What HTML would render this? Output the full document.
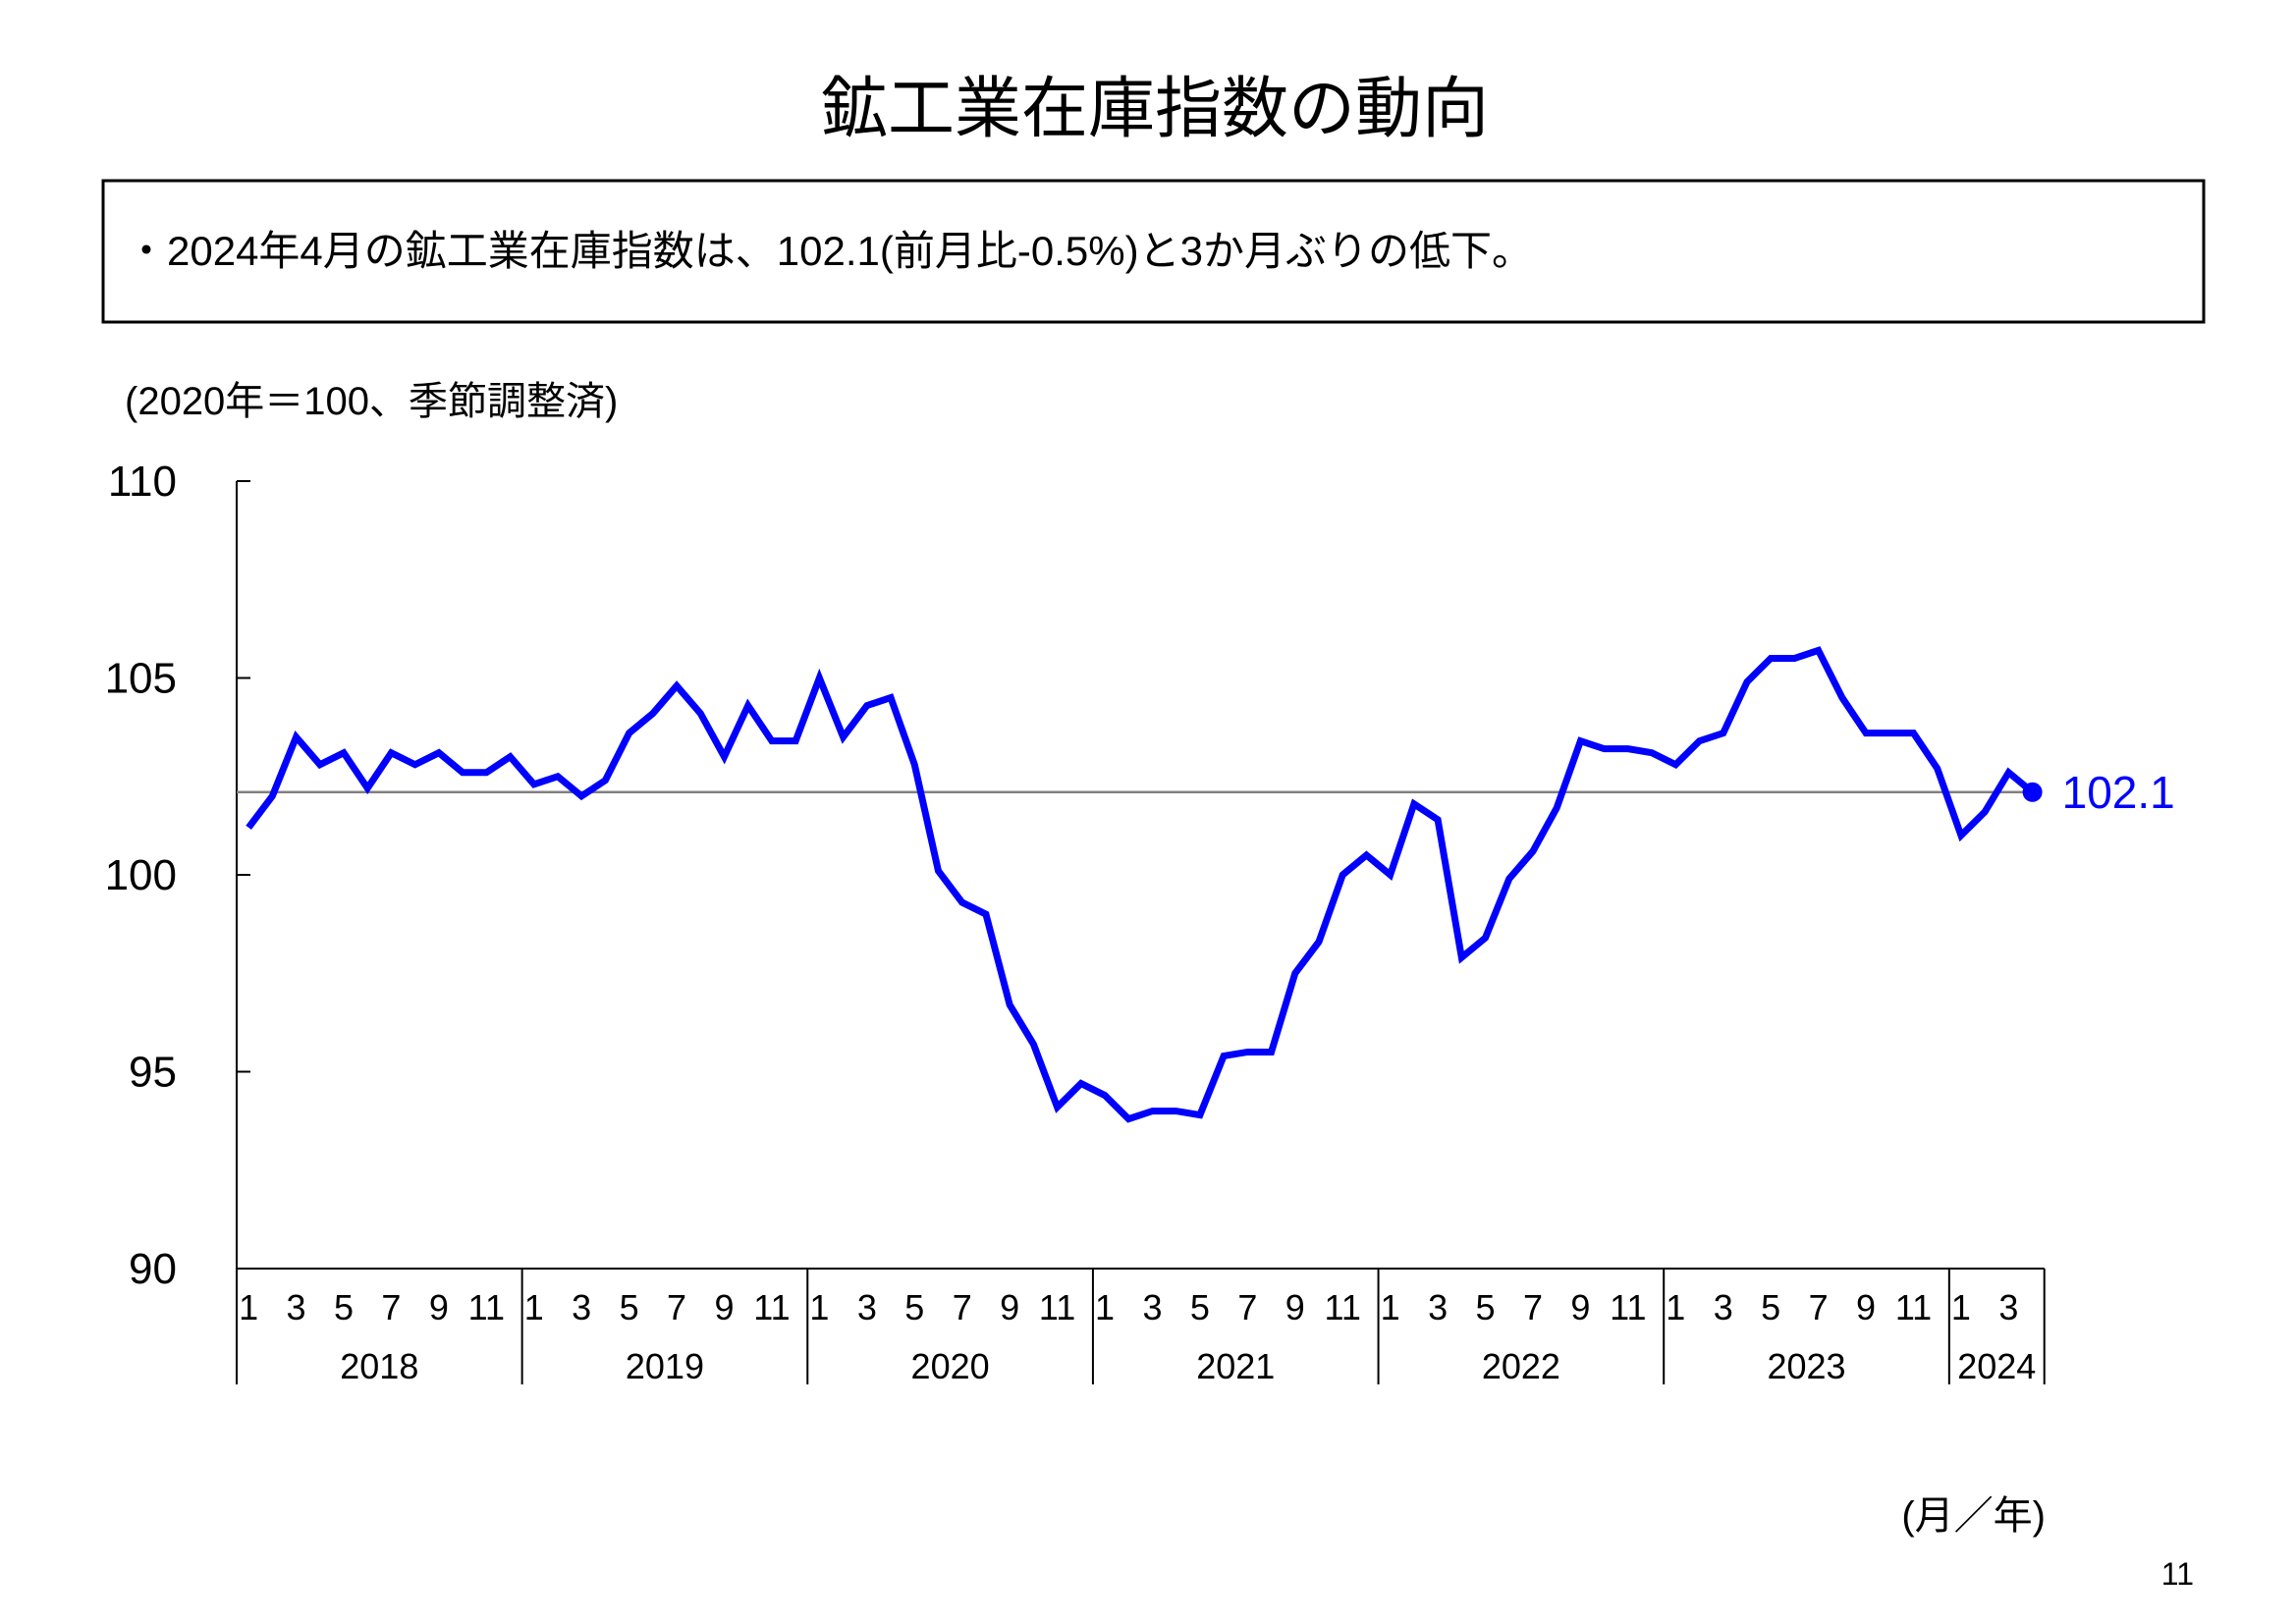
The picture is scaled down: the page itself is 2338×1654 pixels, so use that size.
<!DOCTYPE html>
<html><head><meta charset="utf-8"><style>
html,body{margin:0;padding:0;background:#fff}
svg{display:block}
text{font-family:"Liberation Sans","Noto Sans CJK JP",sans-serif}
</style></head><body>
<svg id="chart" width="2338" height="1654" viewBox="0 0 2338 1654">
<text x="1176" y="134" font-size="68" text-anchor="middle">鉱工業在庫指数の動向</text>
<rect x="105" y="184" width="2139" height="144" fill="none" stroke="#000" stroke-width="3"/>
<text x="128" y="270" font-size="42">・2024年4月の鉱工業在庫指数は、102.1(前月比-0.5%)と3か月ぶりの低下。</text>
<text x="127" y="422" font-size="40">(2020年＝100、季節調整済)</text>
<text x="2083" y="1557" font-size="40" text-anchor="end">(月／年)</text>
<text x="2234" y="1614" font-size="32" text-anchor="end">11</text>
<g id="axes"></g>
<g id="plot"></g>
</svg>
<script>
const years = ["2018","2019","2020","2021","2022","2023","2024"];
const yTicks = [90, 95, 100, 105, 110];
const monthTicks = [1, 3, 5, 7, 9, 11];
const values2018 = [101.2,102.0,103.5,102.8,103.1,102.2,103.1,102.8,103.1,102.6,102.6,103.0];
const values2019 = [102.3,102.5,102.0,102.4,103.6,104.1,104.8,104.1,103.0,104.3,103.4,103.4];
const values2020 = [105.0,103.5,104.3,104.5,102.8,100.1,99.3,99.0,96.7,95.7,94.1,94.7];
const values2021 = [94.4,93.8,94.0,94.0,93.9,95.4,95.5,95.5,97.5,98.3,100.0,100.5];
const values2022 = [100.0,101.8,101.4,97.9,98.4,99.9,100.6,101.7,103.4,103.2,103.2,103.1];
const values2023 = [102.8,103.4,103.6,104.9,105.5,105.5,105.7,104.5,103.6,103.6,103.6,102.7];
const values2024 = [101.0,101.6,102.6,102.1];
const latestLabel = "102.1";

const series = [].concat(values2018,values2019,values2020,values2021,values2022,values2023,values2024);
const NS = "http://www.w3.org/2000/svg";
const X0 = 241, MW = 24.22, Y0 = 1292, YPER = 40.1;
const xOf = i => X0 + (i + 0.5) * MW;
const yOf = v => Y0 - (v - 90) * YPER;
const axes = document.getElementById('axes');
const plot = document.getElementById('plot');
function mk(tag, attrs, parent){const e=document.createElementNS(NS,tag);for(const k in attrs)e.setAttribute(k,attrs[k]);parent.appendChild(e);return e;}
const totalMonths = series.length;
const xEnd = X0 + totalMonths * MW;
let e;
e = mk('line',{x1:X0,y1:yOf(110),x2:X0,y2:Y0+118,stroke:'#000','stroke-width':2},axes);


e = mk('line',{x1:X0,y1:Y0,x2:xEnd,y2:Y0,stroke:'#000','stroke-width':2},axes);


e = mk('line',{x1:xEnd,y1:Y0,x2:xEnd,y2:Y0+118,stroke:'#000','stroke-width':2},axes);


yTicks.forEach(v=>{
  const t = mk('line',{x1:X0,y1:yOf(v),x2:X0+14,y2:yOf(v),stroke:'#000','stroke-width':2},axes);
  
  
  const l = mk('text',{x:180,y:yOf(v)+15,'font-size':44,'text-anchor':'end'},axes);
  l.textContent = v;
  
  
});
years.forEach((y,yi)=>{
  const start = yi*12;
  const n = Math.min(12, totalMonths - start);
  if (yi>0){
    const s = mk('line',{x1:X0+start*MW,y1:Y0,x2:X0+start*MW,y2:Y0+118,stroke:'#000','stroke-width':2},axes);
    
    
  }
  monthTicks.forEach(m=>{
    if (m<=n){
      const t = mk('text',{x:xOf(start+m-1),y:Y0+52,'font-size':36,'text-anchor':'middle'},axes);
      t.textContent = m;
      
      
    }
  });
  const yl = mk('text',{x:X0+(start+n/2)*MW,y:Y0+112,'font-size':36,'text-anchor':'middle'},axes);
  yl.textContent = y;
  
  
});
const last = series[series.length-1];
e = mk('line',{x1:X0,y1:yOf(last),x2:xOf(totalMonths-1),y2:yOf(last),stroke:'#808080','stroke-width':2.5},plot);


e = mk('polyline',{points:series.map((v,i)=>xOf(i)+','+yOf(v)).join(' '),fill:'none',stroke:'#0000ff','stroke-width':7,'stroke-linejoin':'miter'},plot);


e = mk('circle',{cx:xOf(totalMonths-1),cy:yOf(last),r:10,fill:'#0000ff'},plot);


e = mk('text',{x:xOf(totalMonths-1)+30,y:yOf(last)+16,'font-size':46,fill:'#0000ff'},plot);
e.textContent = latestLabel;


</script>
</body></html>
